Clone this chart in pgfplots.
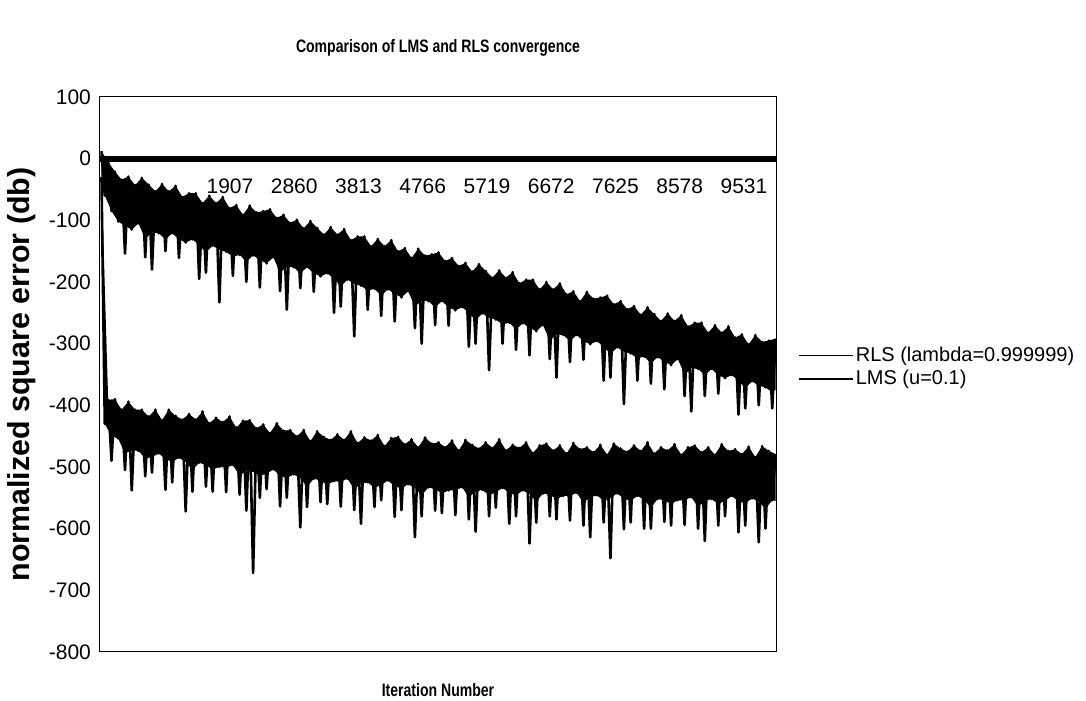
\documentclass[border=0pt]{standalone}
\usepackage{pgfplots}
\pgfplotsset{compat=1.18}
\usepgfplotslibrary{fillbetween}
\usepackage{pgfplotstable}
\usepackage{fontspec}
\setmainfont{Liberation Sans}
\newfontfamily\condsans[FakeStretch=0.78]{Liberation Sans}

% RLS (lambda=0.999999), normalized square error in dB
\pgfplotstableread{
x y
1 12
50 -60
100 -5
150 -85
200 -21
250 -102
300 -34
350 -154
400 -29
450 -115
500 -43
550 -105
600 -31
650 -160
700 -42
750 -180
800 -53
850 -121
900 -41
950 -150
1000 -53
1050 -121
1100 -44
1150 -161
1200 -62
1250 -136
1300 -56
1350 -131
1400 -56
1450 -195
1500 -72
1550 -185
1600 -60
1650 -141
1700 -72
1750 -233
1800 -62
1850 -151
1900 -80
1950 -190
2000 -75
2050 -156
2100 -91
2150 -200
2200 -76
2250 -157
2300 -87
2350 -209
2400 -85
2450 -170
2500 -82
2550 -160
2600 -96
2650 -215
2700 -91
2750 -245
2800 -104
2850 -176
2900 -99
2950 -210
3000 -113
3050 -176
3100 -101
3150 -216
3200 -112
3250 -191
3300 -123
3350 -186
3400 -111
3450 -250
3500 -123
3550 -240
3600 -114
3650 -196
3700 -132
3750 -288
3800 -126
3850 -206
3900 -126
3950 -245
4000 -142
4050 -211
4100 -130
4150 -255
4200 -142
4250 -212
4300 -132
4350 -264
4400 -150
4450 -225
4500 -145
4550 -215
4600 -161
4650 -275
4700 -146
4750 -300
4800 -157
4850 -231
4900 -155
4950 -270
5000 -152
5050 -231
5100 -166
5150 -271
5200 -161
5250 -246
5300 -174
5350 -241
5400 -169
5450 -305
5500 -183
5550 -300
5600 -171
5650 -251
5700 -182
5750 -343
5800 -193
5850 -261
5900 -181
5950 -300
6000 -193
6050 -266
6100 -184
6150 -310
6200 -202
6250 -267
6300 -196
6350 -319
6400 -196
6450 -280
6500 -212
6550 -270
6600 -200
6650 -325
6700 -212
6750 -355
6800 -202
6850 -286
6900 -220
6950 -330
7000 -215
7050 -286
7100 -231
7150 -326
7200 -216
7250 -301
7300 -227
7350 -296
7400 -225
7450 -360
7500 -222
7550 -355
7600 -236
7650 -306
7700 -231
7750 -398
7800 -244
7850 -316
7900 -239
7950 -360
8000 -253
8050 -321
8100 -241
8150 -365
8200 -252
8250 -322
8300 -263
8350 -374
8400 -251
8450 -335
8500 -263
8550 -325
8600 -254
8650 -385
8700 -272
8750 -410
8800 -266
8850 -341
8900 -266
8950 -385
9000 -282
9050 -341
9100 -270
9150 -381
9200 -282
9250 -356
9300 -272
9350 -351
9400 -290
9450 -415
9500 -285
9550 -405
9600 -301
9650 -361
9700 -286
9750 -400
9800 -297
9850 -371
9900 -295
9950 -405
10000 -292
}\rls

% lower edge of the dense RLS band (spikes left out)
\pgfplotstableread{
x y
1 -40
50 -60
150 -85
250 -102
350 -109
450 -115
550 -105
650 -130
750 -120
850 -121
950 -131
1050 -121
1150 -131
1250 -136
1350 -131
1450 -140
1550 -152
1650 -141
1750 -148
1850 -151
1950 -159
2050 -156
2150 -167
2250 -157
2350 -164
2450 -170
2550 -160
2650 -185
2750 -175
2850 -176
2950 -186
3050 -176
3150 -186
3250 -191
3350 -186
3450 -195
3550 -207
3650 -196
3750 -203
3850 -206
3950 -214
4050 -211
4150 -222
4250 -212
4350 -219
4450 -225
4550 -215
4650 -240
4750 -230
4850 -231
4950 -241
5050 -231
5150 -241
5250 -246
5350 -241
5450 -250
5550 -262
5650 -251
5750 -258
5850 -261
5950 -269
6050 -266
6150 -277
6250 -267
6350 -274
6450 -280
6550 -270
6650 -295
6750 -285
6850 -286
6950 -296
7050 -286
7150 -296
7250 -301
7350 -296
7450 -305
7550 -317
7650 -306
7750 -313
7850 -316
7950 -324
8050 -321
8150 -332
8250 -322
8350 -329
8450 -335
8550 -325
8650 -350
8750 -340
8850 -341
8950 -351
9050 -341
9150 -351
9250 -356
9350 -351
9450 -360
9550 -372
9650 -361
9750 -368
9850 -371
9950 -379
10000 -375
}\rlsfloor

% LMS (u=0.1)
\pgfplotstableread{
x y
1 -30
50 -430
100 -391
150 -490
200 -390
250 -454
300 -407
350 -505
400 -394
450 -538
500 -407
550 -474
600 -407
650 -515
700 -418
750 -509
800 -407
850 -478
900 -424
950 -537
1000 -407
1050 -525
1100 -417
1150 -485
1200 -423
1250 -572
1300 -414
1350 -540
1400 -423
1450 -493
1500 -410
1550 -532
1600 -429
1650 -540
1700 -420
1750 -500
1800 -427
1850 -541
1900 -418
1950 -497
2000 -436
2050 -545
2100 -425
2150 -571
2200 -424
2250 -672
2300 -437
2350 -550
2400 -431
2450 -536
2500 -445
2550 -504
2600 -429
2650 -564
2700 -441
2750 -550
2800 -440
2850 -512
2900 -450
2950 -598
3000 -440
3050 -565
3100 -458
3150 -519
3200 -442
3250 -557
3300 -451
3350 -560
3400 -456
3450 -523
3500 -447
3550 -564
3600 -456
3650 -519
3700 -442
3750 -570
3800 -461
3850 -592
3900 -452
3950 -525
4000 -457
4050 -565
4100 -448
4150 -554
4200 -466
4250 -522
4300 -453
4350 -581
4400 -451
4450 -570
4500 -463
4550 -528
4600 -455
4650 -614
4700 -468
4750 -580
4800 -452
4850 -533
4900 -462
4950 -571
5000 -460
5050 -575
5100 -468
5150 -538
5200 -457
5250 -578
5300 -473
5350 -533
5400 -456
5450 -585
5500 -464
5550 -605
5600 -470
5650 -537
5700 -460
5750 -580
5800 -469
5850 -566
5900 -455
5950 -534
6000 -473
6050 -592
6100 -464
6150 -580
6200 -469
6250 -538
6300 -460
6350 -624
6400 -477
6450 -590
6500 -465
6550 -543
6600 -462
6650 -580
6700 -473
6750 -585
6800 -465
6850 -547
6900 -478
6950 -587
7000 -461
7050 -542
7100 -471
7150 -595
7200 -468
7250 -614
7300 -476
7350 -546
7400 -464
7450 -590
7500 -480
7550 -648
7600 -462
7650 -543
7700 -470
7750 -601
7800 -475
7850 -590
7900 -465
7950 -547
8000 -474
8050 -600
8100 -460
8150 -600
8200 -478
8250 -552
8300 -468
8350 -589
8400 -473
8450 -595
8500 -463
8550 -554
8600 -480
8650 -594
8700 -468
8750 -549
8800 -465
8850 -600
8900 -476
8950 -620
9000 -468
9050 -552
9100 -480
9150 -595
9200 -463
9250 -580
9300 -474
9350 -547
9400 -471
9450 -606
9500 -479
9550 -595
9600 -467
9650 -551
9700 -484
9750 -622
9800 -466
9850 -600
9900 -474
9950 -554
10000 -479
}\lms

% lower edge of the dense LMS band (spikes left out)
\pgfplotstableread{
x y
1 -60
50 -430
150 -450
250 -454
350 -478
450 -473
550 -474
650 -486
750 -484
850 -478
950 -487
1050 -492
1150 -485
1250 -492
1350 -505
1450 -493
1550 -497
1650 -504
1750 -500
1850 -501
1950 -497
2050 -514
2150 -506
2250 -508
2350 -514
2450 -511
2550 -504
2650 -514
2750 -518
2850 -512
2950 -518
3050 -532
3150 -519
3250 -522
3350 -529
3450 -523
3550 -524
3650 -519
3750 -536
3850 -527
3950 -525
4050 -534
4150 -529
4250 -522
4350 -531
4450 -535
4550 -528
4650 -534
4750 -546
4850 -533
4950 -536
5050 -543
5150 -538
5250 -538
5350 -533
5450 -549
5550 -540
5650 -537
5750 -546
5850 -541
5950 -534
6050 -542
6150 -546
6250 -538
6350 -544
6450 -556
6550 -543
6650 -545
6750 -552
6850 -547
6950 -547
7050 -542
7150 -558
7250 -549
7350 -546
7450 -555
7550 -550
7650 -543
7750 -551
7850 -555
7950 -547
8050 -553
8150 -566
8250 -552
8350 -554
8450 -560
8550 -554
8650 -554
8750 -549
8850 -565
8950 -555
9050 -552
9150 -560
9250 -555
9350 -547
9450 -556
9550 -559
9650 -551
9750 -556
9850 -568
9950 -554
10000 -555
}\lmsfloor

\begin{document}
\begin{tikzpicture}
\begin{axis}[
    scale only axis,
    width=338pt, height=277.5pt,
    xmin=-21, xmax=10006,
    ymin=-800, ymax=100,
    axis x line*=middle,
    x axis line style={-, line width=3pt},
    y axis line style={line width=0.5pt},
    ytick pos=left,
    major tick length=0pt,
    scaled x ticks=false,
    xtick={1,954,1907,2860,3813,4766,5719,6672,7625,8578,9531},
    xticklabels={,,1907,2860,3813,4766,5719,6672,7625,8578,9531},
    ytick={-800,-700,-600,-500,-400,-300,-200,-100,0,100},
    yticklabels={-800,-700,-600,-500,-400,-300,-200,-100,0,100},
    tick label style={font=\fontsize{10.5}{12}\selectfont},
    xticklabel style={yshift=-6.5pt},
    yticklabel style={xshift=-1pt},
    title={Comparison of LMS and RLS convergence},
    title style={at={(axis description cs:0.5,1)}, anchor=center, yshift=18.5pt,
        font=\fontsize{9}{11}\condsans\bfseries},
    xlabel={Iteration Number},
    xlabel style={at={(axis description cs:0.5,0)}, anchor=center, yshift=-19pt,
        font=\fontsize{9}{11}\condsans\bfseries},
    ylabel={normalized square error (db)},
    ylabel style={at={(axis description cs:0,0.5)}, anchor=center, yshift=39pt,
        font=\fontsize{15.2}{17}\selectfont\bfseries},
    legend style={at={(axis description cs:1.024,0.513)}, anchor=west,
        draw=none, fill=none, font=\fontsize{10}{12}\selectfont,
        row sep=1pt, nodes={inner sep=1pt}},
    legend cell align=left,
    legend image code/.code={\draw[black, line width=0.6pt] (0pt,0pt) -- (27pt,0pt);},
    peaks/.style={x filter/.code={\ifodd\coordindex\def\pgfmathresult{}\fi}},
]
% dense part of each band: between the peaks and the lower edge
\addplot[draw=none, forget plot, name path=rtop, peaks] table[x=x, y=y] {\rls};
\addplot[draw=none, forget plot, name path=rbot] table[x=x, y=y] {\rlsfloor};
\addplot[black, forget plot] fill between[of=rtop and rbot];
\addplot[draw=none, forget plot, name path=ltop, peaks] table[x=x, y=y] {\lms};
\addplot[draw=none, forget plot, name path=lbot] table[x=x, y=y] {\lmsfloor};
\addplot[black, forget plot] fill between[of=ltop and lbot];
% the series themselves
\addplot[black, line width=1.3pt, line join=round] table[x=x, y=y] {\rls};
\addplot[black, line width=1.3pt, line join=round] table[x=x, y=y] {\lms};
\legend{RLS (lambda=0.999999), LMS (u=0.1)}
\end{axis}
\draw[line width=0.5pt] (current axis.south west) rectangle (current axis.north east);
\pgfresetboundingbox
\path[use as bounding box] ([xshift=-50pt,yshift=-24.5pt]current axis.south west)
    rectangle ([xshift=155pt,yshift=48.5pt]current axis.north east);
\end{tikzpicture}
\end{document}
